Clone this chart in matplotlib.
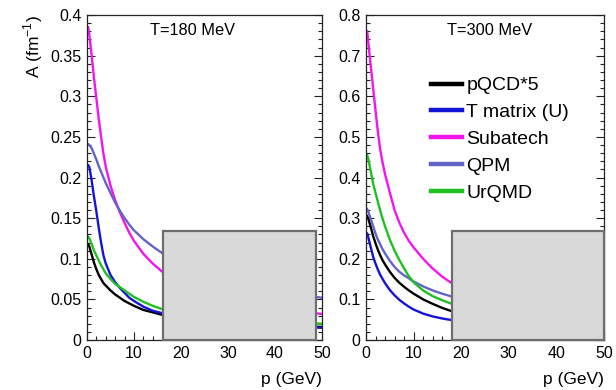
import matplotlib
matplotlib.use("Agg")
import matplotlib.pyplot as plt
from matplotlib.patches import Rectangle
from matplotlib.ticker import MultipleLocator, FormatStrFormatter

plt.rcParams['font.family'] = ['Liberation Sans', 'DejaVu Sans']

# momentum grid (GeV)
p = [0.25, 0.5, 1, 1.5, 2, 2.5, 3, 3.5, 4, 5, 6, 7, 8, 9, 10, 12, 14, 16, 18, 20,
     25, 30, 35, 40, 45, 50]

# T = 180 MeV
pqcd_180 = [0.118, 0.115, 0.105, 0.095, 0.087, 0.080, 0.075, 0.070, 0.067, 0.061,
            0.056, 0.052, 0.048, 0.045, 0.042, 0.037, 0.034, 0.031, 0.029, 0.027,
            0.024, 0.021, 0.019, 0.018, 0.017, 0.016]
tmat_180 = [0.215, 0.213, 0.196, 0.176, 0.158, 0.138, 0.120, 0.104, 0.094, 0.080,
            0.071, 0.064, 0.058, 0.052, 0.048, 0.041, 0.036, 0.033, 0.030, 0.028,
            0.024, 0.021, 0.019, 0.017, 0.016, 0.015]
subatech_180 = [0.385, 0.375, 0.350, 0.322, 0.297, 0.272, 0.250, 0.229, 0.213, 0.190,
                0.172, 0.157, 0.144, 0.132, 0.122, 0.106, 0.094, 0.084, 0.077, 0.071,
                0.060, 0.051, 0.044, 0.039, 0.035, 0.032]
qpm_180 = [0.241, 0.240, 0.236, 0.229, 0.222, 0.214, 0.207, 0.200, 0.193, 0.181,
           0.169, 0.159, 0.150, 0.142, 0.135, 0.124, 0.115, 0.107, 0.101, 0.095,
           0.083, 0.074, 0.067, 0.061, 0.056, 0.052]
urqmd_180 = [0.127, 0.125, 0.118, 0.110, 0.104, 0.098, 0.092, 0.087, 0.082, 0.075,
             0.069, 0.065, 0.061, 0.057, 0.053, 0.047, 0.042, 0.038, 0.035, 0.033,
             0.029, 0.026, 0.024, 0.022, 0.021, 0.020]

# T = 300 MeV
pqcd_300 = [0.305, 0.298, 0.278, 0.256, 0.238, 0.222, 0.208, 0.196, 0.186, 0.168,
            0.153, 0.141, 0.131, 0.122, 0.114, 0.100, 0.089, 0.079, 0.071, 0.066,
            0.057, 0.051, 0.046, 0.042, 0.039, 0.037]
tmat_300 = [0.262, 0.252, 0.228, 0.205, 0.188, 0.173, 0.160, 0.150, 0.140, 0.123,
            0.110, 0.099, 0.090, 0.082, 0.075, 0.065, 0.058, 0.053, 0.049, 0.046,
            0.041, 0.037, 0.034, 0.032, 0.030, 0.029]
subatech_300 = [0.760, 0.730, 0.675, 0.620, 0.565, 0.512, 0.468, 0.436, 0.408, 0.363,
                0.320, 0.289, 0.264, 0.244, 0.228, 0.200, 0.176, 0.156, 0.140, 0.128,
                0.108, 0.094, 0.084, 0.076, 0.070, 0.065]
qpm_300 = [0.322, 0.315, 0.298, 0.280, 0.262, 0.247, 0.235, 0.223, 0.213, 0.195,
           0.180, 0.168, 0.159, 0.152, 0.144, 0.132, 0.122, 0.114, 0.107, 0.101,
           0.089, 0.080, 0.073, 0.068, 0.063, 0.060]
urqmd_300 = [0.455, 0.445, 0.415, 0.385, 0.362, 0.340, 0.318, 0.298, 0.280, 0.247,
             0.220, 0.197, 0.176, 0.157, 0.142, 0.122, 0.108, 0.098, 0.089, 0.083,
             0.072, 0.064, 0.058, 0.053, 0.049, 0.046]

labels = ['pQCD*5', 'T matrix (U)', 'Subatech', 'QPM', 'UrQMD']
colors = ['black', '#1414d8', '#f514f0', '#6464c8', '#1fc01f']

fig = plt.figure(figsize=(6.16, 3.90), dpi=100)
ax1 = fig.add_axes([87/616, 50/390, 235/616, 325/390])
ax2 = fig.add_axes([366/616, 50/390, 238/616, 325/390])

panels = [
    (ax1, [pqcd_180, tmat_180, subatech_180, qpm_180, urqmd_180], 0.4, 0.05, 0.01,
     'T=180 MeV', 0.45, (16.2, 48.7, 0.134)),
    (ax2, [pqcd_300, tmat_300, subatech_300, qpm_300, urqmd_300], 0.8, 0.1, 0.02,
     'T=300 MeV', 0.52, (18.1, 50.0, 0.268)),
]

for ax, series, ymax, ymaj, ymin_, title, tx, box in panels:
    for ys, lab, c in zip(series, labels, colors):
        ax.plot(p, ys, color=c, lw=1.7, label=lab, solid_joinstyle='round')
    ax.set_xlim(0, 50)
    ax.set_ylim(0, ymax)
    ax.xaxis.set_major_locator(MultipleLocator(10))
    ax.xaxis.set_minor_locator(MultipleLocator(2))
    ax.yaxis.set_major_locator(MultipleLocator(ymaj))
    ax.yaxis.set_minor_locator(MultipleLocator(ymin_))
    ax.yaxis.set_major_formatter(FormatStrFormatter('%g'))
    ax.tick_params(which='both', direction='in', left=True, right=True,
                   top=False, bottom=True, labelsize=11.5, colors='#222222',
                   labelcolor='black')
    ax.tick_params(which='major', length=6, width=0.8, pad=4)
    ax.tick_params(which='minor', length=3, width=0.8)
    for s in ax.spines.values():
        s.set_linewidth(0.9)
        s.set_color('#222222')
    ax.text(tx, 0.952, title, transform=ax.transAxes, ha='center', va='center',
            fontsize=11.8)
    ax.set_xlabel('p (GeV)', loc='right', fontsize=12.5, labelpad=8)
    # grey block over the high-momentum corner
    x0, x1, ytop = box
    ax.add_patch(Rectangle((x0, 0), x1 - x0, ytop, facecolor='#d9d9d9',
                           edgecolor='#6e6e6e', lw=1.6, zorder=5, clip_on=False))

ax1.set_ylabel('A (fm$^{\\mathregular{-1}}$)', loc='top', fontsize=12.5, labelpad=4)

leg = ax2.legend(loc='upper left', bbox_to_anchor=(0.275, 0.81), frameon=False,
                 fontsize=14, handlelength=1.55, handletextpad=0.25,
                 labelspacing=0.48, borderpad=0, borderaxespad=0)
for line in leg.get_lines():
    line.set_linewidth(3.2)

fig.savefig('out.png', dpi=100)
